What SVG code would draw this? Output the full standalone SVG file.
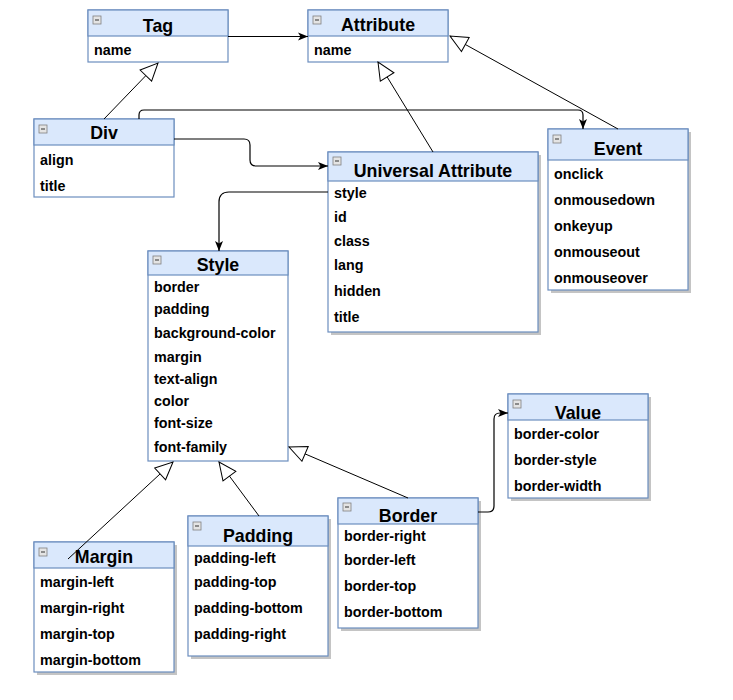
<svg xmlns="http://www.w3.org/2000/svg" width="733" height="700" viewBox="0 0 733 700">
<style>
.hd{fill:#dae8fc;stroke:#6c8ebf;stroke-width:1.2}
.bd{fill:#ffffff;stroke:#6c8ebf;stroke-width:1.2}
.sh{fill:#c4c4c4}
.ttl{font-family:"Liberation Sans",Arial,sans-serif;font-weight:bold;font-size:17.8px;fill:#000;text-anchor:middle}
.it{font-family:"Liberation Sans",Arial,sans-serif;font-weight:bold;font-size:14.3px;fill:#000}
.ic{fill:#e4e4e4;stroke:#808080;stroke-width:0.8}
.icl{stroke:#333;stroke-width:1}
.ln{fill:none;stroke:#000;stroke-width:1.2}
.gen{fill:none;stroke:#000;stroke-width:1}
</style>
<defs>
<marker id="arr" markerUnits="userSpaceOnUse" markerWidth="10" markerHeight="10" viewBox="0 0 10 10" refX="10" refY="5" orient="auto">
<path d="M0,1 L10,5 L0,9 L2.5,5 z" fill="#000"/>
</marker>
<marker id="tri" markerUnits="userSpaceOnUse" markerWidth="20" markerHeight="18" viewBox="-1 -1 20 18" refX="17.5" refY="8" orient="auto">
<path d="M0,0 L17.5,8 L0,16 z" fill="#fff" stroke="#000" stroke-width="1"/>
</marker>
<g id="minus">
<rect class="ic" x="0" y="0" width="8" height="8"/>
<line class="icl" x1="2" y1="4" x2="6" y2="4"/>
</g>
</defs>
<rect width="733" height="700" fill="#fff"/>

<g id="tag">
<rect class="bd" x="88" y="10" width="140" height="52"/>
<rect class="hd" x="88" y="10" width="140" height="26"/>
<use href="#minus" x="93" y="16"/>
<text class="ttl" x="158" y="32">Tag</text>
<text class="it" x="94" y="55">name</text>
</g>

<g id="attribute">
<rect class="bd" x="308" y="10" width="140" height="52"/>
<rect class="hd" x="308" y="10" width="140" height="26"/>
<use href="#minus" x="313" y="16"/>
<text class="ttl" x="378" y="31">Attribute</text>
<text class="it" x="314" y="55">name</text>
</g>

<g id="div">
<rect class="bd" x="34" y="119" width="140" height="78"/>
<rect class="hd" x="34" y="119" width="140" height="26"/>
<use href="#minus" x="39" y="125"/>
<text class="ttl" x="104" y="139">Div</text>
<text class="it" x="40" y="165">align</text>
<text class="it" x="40" y="191">title</text>
</g>

<g id="universal-attribute">
<rect class="sh" x="331" y="155" width="210" height="180"/>
<rect class="bd" x="328" y="152" width="210" height="180"/>
<rect class="hd" x="328" y="152" width="210" height="29"/>
<use href="#minus" x="333" y="157"/>
<text class="ttl" x="433" y="177">Universal Attribute</text>
<text class="it" x="334" y="198">style</text>
<text class="it" x="334" y="222">id</text>
<text class="it" x="334" y="246">class</text>
<text class="it" x="334" y="270">lang</text>
<text class="it" x="334" y="296">hidden</text>
<text class="it" x="334" y="322">title</text>
</g>

<g id="event">
<rect class="sh" x="551" y="132" width="140" height="161"/>
<rect class="bd" x="548" y="129" width="140" height="161"/>
<rect class="hd" x="548" y="129" width="140" height="31"/>
<use href="#minus" x="553" y="135"/>
<text class="ttl" x="618" y="155">Event</text>
<text class="it" x="554" y="179">onclick</text>
<text class="it" x="554" y="205">onmousedown</text>
<text class="it" x="554" y="231">onkeyup</text>
<text class="it" x="554" y="257">onmouseout</text>
<text class="it" x="554" y="283">onmouseover</text>
</g>

<g id="style">
<rect class="bd" x="148" y="251" width="140" height="210"/>
<rect class="hd" x="148" y="251" width="140" height="24"/>
<use href="#minus" x="153" y="256"/>
<text class="ttl" x="218" y="271">Style</text>
<text class="it" x="154" y="292">border</text>
<text class="it" x="154" y="314">padding</text>
<text class="it" x="154" y="338">background-color</text>
<text class="it" x="154" y="362">margin</text>
<text class="it" x="154" y="384">text-align</text>
<text class="it" x="154" y="406">color</text>
<text class="it" x="154" y="428">font-size</text>
<text class="it" x="154" y="452">font-family</text>
</g>

<g id="value">
<rect class="sh" x="511" y="397" width="140" height="104"/>
<rect class="bd" x="508" y="394" width="140" height="104"/>
<rect class="hd" x="508" y="394" width="140" height="26"/>
<use href="#minus" x="513" y="400"/>
<text class="ttl" x="578" y="419">Value</text>
<text class="it" x="514" y="439">border-color</text>
<text class="it" x="514" y="465">border-style</text>
<text class="it" x="514" y="491">border-width</text>
</g>

<g id="margin">
<rect class="sh" x="37" y="545" width="140" height="130"/>
<rect class="bd" x="34" y="542" width="140" height="130"/>
<rect class="hd" x="34" y="542" width="140" height="26"/>
<use href="#minus" x="39" y="548"/>
<text class="ttl" x="104" y="563">Margin</text>
<text class="it" x="40" y="587">margin-left</text>
<text class="it" x="40" y="613">margin-right</text>
<text class="it" x="40" y="639">margin-top</text>
<text class="it" x="40" y="665">margin-bottom</text>
</g>

<g id="padding">
<rect class="sh" x="191" y="519" width="140" height="140"/>
<rect class="bd" x="188" y="516" width="140" height="140"/>
<rect class="hd" x="188" y="516" width="140" height="30"/>
<use href="#minus" x="193" y="522"/>
<text class="ttl" x="258" y="542">Padding</text>
<text class="it" x="194" y="563">padding-left</text>
<text class="it" x="194" y="587">padding-top</text>
<text class="it" x="194" y="613">padding-bottom</text>
<text class="it" x="194" y="639">padding-right</text>
</g>

<g id="border">
<rect class="sh" x="341" y="501" width="140" height="130"/>
<rect class="bd" x="338" y="498" width="140" height="130"/>
<rect class="hd" x="338" y="498" width="140" height="26"/>
<use href="#minus" x="343" y="503"/>
<text class="ttl" x="408" y="522">Border</text>
<text class="it" x="344" y="541">border-right</text>
<text class="it" x="344" y="565">border-left</text>
<text class="it" x="344" y="591">border-top</text>
<text class="it" x="344" y="617">border-bottom</text>
</g>

<g id="connectors">
<path class="ln" d="M228,36.5 L308,36.5" marker-end="url(#arr)"/>
<path class="gen" d="M104,119 L158,63" marker-end="url(#tri)"/>
<path class="gen" d="M433,152 L378,62" marker-end="url(#tri)"/>
<path class="gen" d="M618,129 L450,36" marker-end="url(#tri)"/>
<path class="ln" d="M139,119 L139,115 Q139,110 144,110 L578,110 Q583,110 583,115 L583,129" marker-end="url(#arr)"/>
<path class="ln" d="M174,139 L244,139 Q250,139 250,145 L250,160 Q250,166 256,166 L328,166" marker-end="url(#arr)"/>
<path class="ln" d="M328,192 L229,192 Q219,192 219,202 L219,251" marker-end="url(#arr)"/>
<path class="gen" d="M68,559 L173,462" marker-end="url(#tri)"/>
<path class="gen" d="M259,516 L219,462" marker-end="url(#tri)"/>
<path class="gen" d="M408,498 L289,447" marker-end="url(#tri)"/>
<path class="ln" d="M478,512 L488,512 Q494,512 494,506 L494,419 Q494,413 500,413 L508,413" marker-end="url(#arr)"/>
</g>
</svg>
